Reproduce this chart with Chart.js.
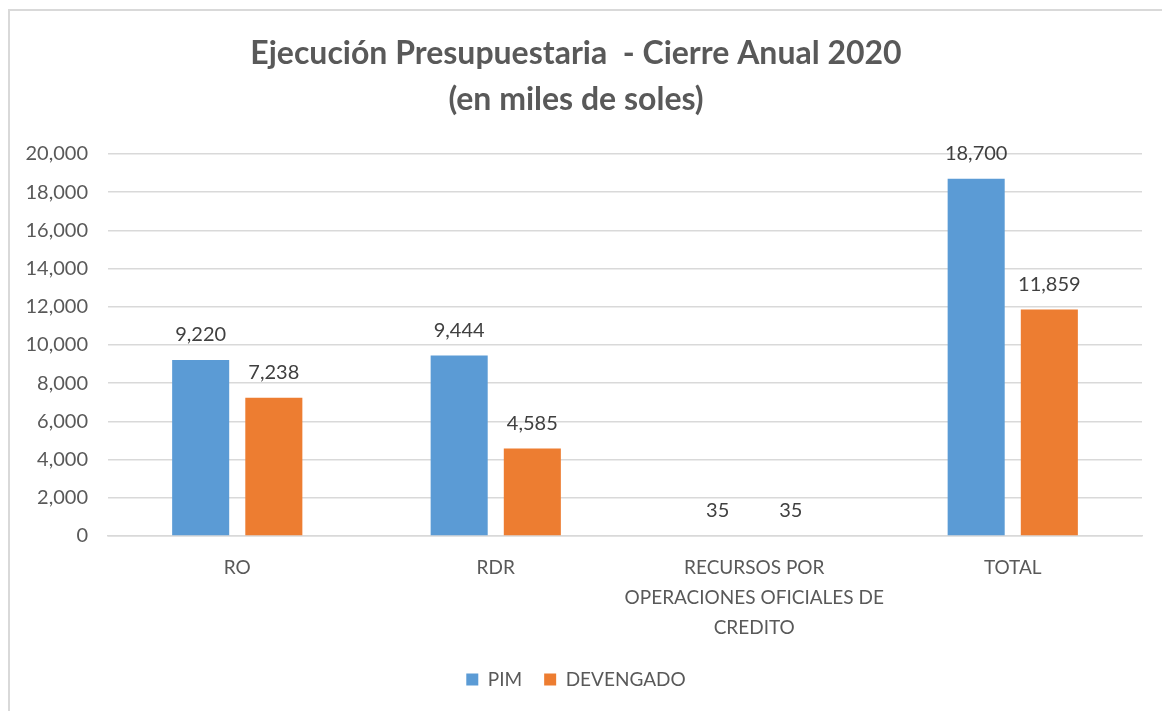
<!DOCTYPE html>
<html>
<head>
<meta charset="utf-8">
<script src="https://cdn.jsdelivr.net/npm/chart.js@4"></script>
<style>
  html, body { margin: 0; padding: 0; background: #fff; overflow: hidden; }
  #frame {
    position: absolute; left: 8px; top: 9px; width: 1154px; height: 702px;
    border-left: 2px solid #d9d9d9; border-top: 2px solid #d9d9d9;
  }
  #chart { display: block; }
</style>
</head>
<body>
<div id="frame"><canvas id="chart" width="1152" height="700"></canvas></div>
<script>
const categories = ["RO", "RDR", ["RECURSOS POR", "OPERACIONES OFICIALES DE", "CREDITO"], "TOTAL"];
const pimValues = [9220, 9444, 35, 18700];
const devengadoValues = [7238, 4585, 35, 11859];
const titleLines = ["Ejecución Presupuestaria  - Cierre Anual 2020", "(en miles de soles)"];

const FONT = "Lato, 'Open Sans', sans-serif";
const GRAY = "#595959";

// ---------- VALUE LABELS ----------
const valueLabels = {
  id: "valueLabels",
  afterDatasetsDraw(chart) {
    const ctx = chart.ctx;
    ctx.save();
    ctx.font = "20px " + FONT;
    ctx.fillStyle = "#404040";
    ctx.textAlign = "center";
    ctx.textBaseline = "bottom";
    chart.data.datasets.forEach((ds, i) => {
      chart.getDatasetMeta(i).data.forEach((bar, j) => {
        ctx.fillText(ds.data[j].toLocaleString("en-US"), bar.x, bar.y - 15);
      });
    });
    ctx.restore();
  }
};

new Chart(document.getElementById("chart"), {
  type: "bar",
  data: {
    labels: categories,
    datasets: [
      { label: "PIM", data: pimValues, backgroundColor: "#5B9BD5", categoryPercentage: 0.566, barPercentage: 0.78 },
      { label: "DEVENGADO", data: devengadoValues, backgroundColor: "#ED7D31", categoryPercentage: 0.566, barPercentage: 0.78 }
    ]
  },
  options: {
    responsive: false,
    animation: false,
    layout: { padding: { left: 0, right: 20, bottom: 12 } },
    plugins: {
      title: {
        display: true,
        text: titleLines,
        color: GRAY,
        font: { family: FONT, size: 32, weight: "bold", lineHeight: 46 / 32 },
        padding: { top: 20, bottom: 31 }
      },
      legend: {
        position: "bottom",
        labels: { color: GRAY, font: { family: FONT, size: 19 }, boxWidth: 12, boxHeight: 12, padding: 22 }
      },
      tooltip: { enabled: false }
    },
    scales: {
      y: {
        min: 0, max: 20000,
        ticks: { stepSize: 2000, color: GRAY, font: { family: FONT, size: 20 }, padding: 20,
          callback: v => v.toLocaleString("en-US") },
        grid: { color: "#d9d9d9", lineWidth: 1.5, drawTicks: false },
        border: { display: false },
        afterFit: s => { s.width = 98; }
      },
      x: {
        ticks: { color: GRAY, font: { family: FONT, size: 19, lineHeight: 30 / 19 }, padding: 17, maxRotation: 0, autoSkip: false },
        grid: { display: false, drawTicks: false },
        border: { color: "#d9d9d9", width: 1.5 },
        afterFit: s => { s.height = s.height - 12; }
      }
    }
  },
  plugins: [valueLabels]
});
</script>
</body>
</html>
